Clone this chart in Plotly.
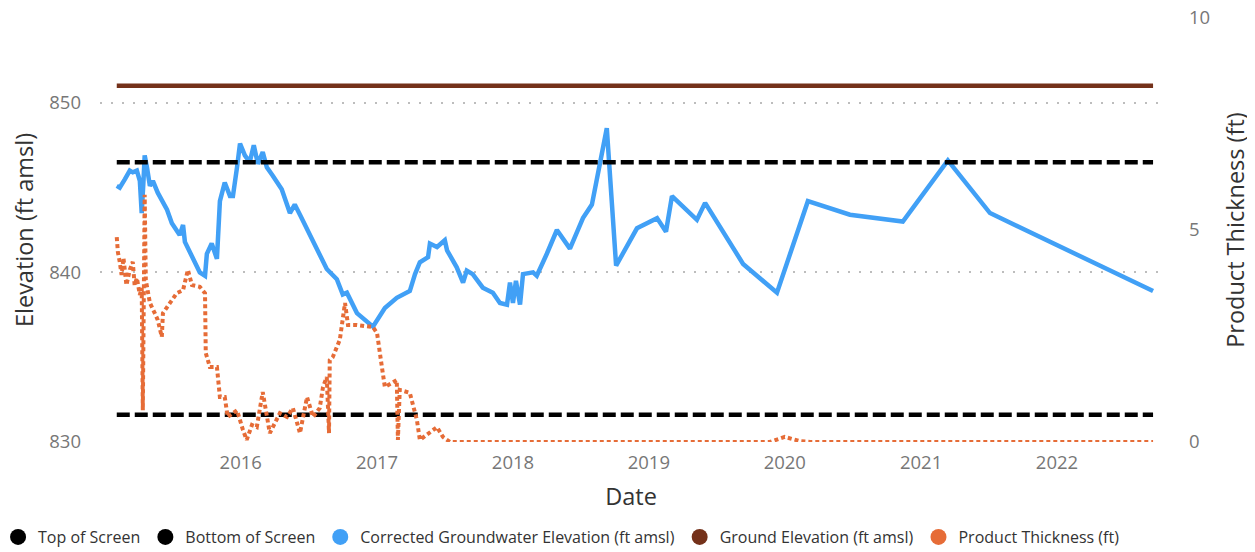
import plotly.graph_objects as go

# ---------------- data ----------------
gw_dates = [
    "2015-02-02", "2015-02-10", "2015-02-24", "2015-03-09", "2015-03-17", "2015-03-28",
    "2015-04-05", "2015-04-10", "2015-04-15", "2015-04-18", "2015-04-24", "2015-05-02",
    "2015-05-10", "2015-05-23", "2015-06-17", "2015-06-30", "2015-07-21", "2015-07-30",
    "2015-08-04", "2015-08-23", "2015-09-13", "2015-09-27", "2015-10-02", "2015-10-15",
    "2015-10-29", "2015-11-06", "2015-11-19", "2015-12-03", "2015-12-11", "2015-12-22",
    "2015-12-30", "2016-01-12", "2016-01-25", "2016-02-05", "2016-02-16", "2016-02-29",
    "2016-03-11", "2016-03-27", "2016-04-20", "2016-05-12", "2016-05-25", "2016-06-08",
    "2016-07-13", "2016-08-19", "2016-09-15", "2016-10-01", "2016-10-12", "2016-11-08",
    "2016-12-21", "2017-01-09", "2017-01-22", "2017-02-23", "2017-03-30", "2017-04-13",
    "2017-04-26", "2017-05-18", "2017-05-23", "2017-06-11", "2017-07-02", "2017-07-08",
    "2017-08-03", "2017-08-20", "2017-08-30", "2017-09-15", "2017-10-12", "2017-11-08",
    "2017-11-27", "2017-12-16", "2017-12-24", "2018-01-01", "2018-01-09", "2018-01-20",
    "2018-01-28", "2018-02-24", "2018-03-06", "2018-04-02", "2018-04-29", "2018-06-03",
    "2018-07-08", "2018-08-01", "2018-09-10", "2018-10-05", "2018-10-29", "2018-11-30",
    "2019-01-23", "2019-02-16", "2019-03-04", "2019-05-10", "2019-06-01", "2019-09-11",
    "2019-12-11", "2020-03-03", "2020-06-24", "2020-11-13", "2021-03-14", "2021-07-05",
    "2022-09-16",
]
gw_elev = [
    845.1, 845.0, 845.5, 846.0, 845.9, 846.0,
    845.4, 843.5, 845.5, 846.9, 846.2, 845.1,
    845.4, 844.7, 843.7, 842.9, 842.2, 842.8,
    841.8, 841.0, 840.0, 839.8, 841.1, 841.7,
    840.8, 844.2, 845.3, 844.5, 844.5, 846.2,
    847.6, 846.9, 846.5, 847.5, 846.4, 847.1,
    846.2, 845.7, 844.9, 843.5, 844.0, 843.4,
    841.8, 840.2, 839.6, 838.7, 838.8, 837.6,
    836.8, 837.4, 837.9, 838.5, 838.9, 839.9,
    840.6, 840.9, 841.7, 841.5, 841.9, 841.3,
    840.3, 839.4, 840.1, 839.9, 839.1, 838.8,
    838.2, 838.1, 839.4, 838.2, 839.5, 838.1,
    839.9, 840.0, 839.8, 841.1, 842.5, 841.4,
    843.2, 844.0, 848.5, 840.4, 841.4, 842.6,
    843.2, 842.4, 844.5, 843.1, 844.1, 840.5,
    838.8, 844.2, 843.4, 843.0, 846.6, 843.5,
    838.9,
]

pt_dates = [
    "2015-02-02", "2015-02-05", "2015-02-10", "2015-02-15", "2015-02-20", "2015-02-28",
    "2015-03-09", "2015-03-17", "2015-03-22", "2015-03-28", "2015-04-05", "2015-04-10",
    "2015-04-13", "2015-04-16", "2015-04-18", "2015-04-21", "2015-04-26", "2015-05-02",
    "2015-05-15", "2015-05-23", "2015-06-03", "2015-06-06", "2015-06-25", "2015-07-13",
    "2015-07-30", "2015-08-12", "2015-08-23", "2015-09-13", "2015-09-27", "2015-09-29",
    "2015-10-10", "2015-10-29", "2015-11-06", "2015-11-19", "2015-11-27", "2015-12-22",
    "2016-01-07", "2016-01-17", "2016-01-31", "2016-02-13", "2016-02-29", "2016-03-11",
    "2016-03-19", "2016-04-15", "2016-05-04", "2016-05-20", "2016-06-08", "2016-06-27",
    "2016-07-13", "2016-07-31", "2016-08-09", "2016-08-19", "2016-08-25", "2016-08-27",
    "2016-09-04", "2016-09-23", "2016-10-07", "2016-10-15", "2016-11-08", "2016-12-21",
    "2017-01-01", "2017-01-14", "2017-01-22", "2017-02-10", "2017-02-23", "2017-02-26",
    "2017-03-03", "2017-03-30", "2017-04-18", "2017-04-26", "2017-05-23", "2017-06-11",
    "2017-06-27", "2017-07-16", "2019-11-22", "2020-01-01", "2020-02-11", "2020-03-09",
    "2022-09-16",
]
pt_thick = [
    4.83, 4.48, 4.25, 3.94, 4.34, 3.70,
    4.06, 4.25, 3.70, 3.87, 3.47, 3.63,
    0.75, 3.35, 5.83, 3.82, 3.58, 3.28,
    3.04, 2.88, 2.48, 3.04, 3.28, 3.51,
    3.58, 4.06, 3.70, 3.66, 3.51, 2.10,
    1.77, 1.77, 1.06, 1.06, 0.59, 0.75,
    0.28, 0.05, 0.40, 0.35, 1.18, 0.59,
    0.21, 0.68, 0.59, 0.80, 0.21, 1.06,
    0.59, 0.80, 1.30, 1.53, 0.21, 1.93,
    2.00, 2.41, 3.28, 2.76, 2.76, 2.71,
    2.57, 1.77, 1.30, 1.39, 1.46, 0.05,
    1.23, 1.16, 0.52, 0.05, 0.21, 0.35,
    0.12, 0.00, 0.00, 0.12, 0.02, 0.00,
    0.00,
]

series_span = ["2015-02-02", "2022-09-16"]
top_of_screen = 846.5
bottom_of_screen = 831.6
ground_elevation = 851.0

tick_years = ["2016", "2017", "2018", "2019", "2020", "2021", "2022"]

# ---------------- styling ----------------
FONT = "Segoe UI, Open Sans, sans-serif"
C_BLUE = "#41A0F6"
C_ORANGE = "#E66C37"
C_BROWN = "#74311A"
C_BLACK = "#000000"
TITLE_C = "#333333"
TICK_C = "#777777"

fig = go.Figure()

fig.add_trace(go.Scatter(x=gw_dates, y=gw_elev, mode="lines",
                         line=dict(color=C_BLUE, width=4.5), showlegend=False, yaxis="y"))
fig.add_trace(go.Scatter(x=series_span, y=[top_of_screen] * 2, mode="lines",
                         line=dict(color=C_BLACK, width=4.5, dash="13px,5px"), showlegend=False))
fig.add_trace(go.Scatter(x=series_span, y=[bottom_of_screen] * 2, mode="lines",
                         line=dict(color=C_BLACK, width=4.5, dash="13px,5px"), showlegend=False))
fig.add_trace(go.Scatter(x=series_span, y=[ground_elevation] * 2, mode="lines",
                         line=dict(color=C_BROWN, width=4.5), showlegend=False))
fig.add_trace(go.Scatter(x=pt_dates, y=pt_thick, mode="lines", yaxis="y2",
                         line=dict(color=C_ORANGE, width=4, dash="4px,3px"), showlegend=False))

# legend entries (circle markers like the reference legend)
for name, col in [("Top of Screen", C_BLACK), ("Bottom of Screen", C_BLACK),
                  ("Corrected Groundwater Elevation (ft amsl)", C_BLUE),
                  ("Ground Elevation (ft amsl)", C_BROWN),
                  ("Product Thickness (ft)", C_ORANGE)]:
    fig.add_trace(go.Scatter(x=[None], y=[None], mode="markers", name=name,
                             marker=dict(color=col, size=17, symbol="circle")))

# the page body adds an 8px margin, so the figure is sized 8px smaller
fig.update_layout(
    width=1247, height=544,
    margin=dict(l=92, r=93, t=10, b=110, autoexpand=False),
    paper_bgcolor="white", plot_bgcolor="white",
    font=dict(family=FONT, color=TICK_C, size=16),
    xaxis=dict(
        type="date", range=["2014-12-19", "2022-10-10"],
        tickvals=[f"{y}-01-01" for y in tick_years], ticktext=tick_years,
        showgrid=False, zeroline=False, showline=False, automargin=True,
        tickfont=dict(size=18.5, color=TICK_C), ticklabelstandoff=7,
        title=dict(text="Date", font=dict(size=23.5, color=TITLE_C), standoff=16),
    ),
    yaxis=dict(
        range=[830, 855], tickvals=[830, 840, 850],
        showgrid=True, gridcolor="#BDBDBD", griddash="2px,9px", gridwidth=1.5,
        zeroline=False, showline=False, automargin=False,
        tickfont=dict(size=18.5, color=TICK_C), ticklabelstandoff=18,
        title=dict(text="Elevation (ft amsl)", font=dict(size=23.5, color=TITLE_C)),
    ),
    yaxis2=dict(
        range=[0, 10], tickvals=[0, 5, 10], overlaying="y", side="right",
        showgrid=False, zeroline=False, showline=False, automargin=True,
        ticklabeloverflow="allow",
        tickfont=dict(size=18.5, color=TICK_C), ticklabelstandoff=26,
        title=dict(text="Product Thickness (ft)", font=dict(size=23.5, color=TITLE_C), standoff=18),
    ),
    legend=dict(
        orientation="h", xref="paper", yref="paper",
        x=-0.096, xanchor="left", y=-0.224, yanchor="middle",
        font=dict(size=16, color=TITLE_C), itemwidth=30, tracegroupgap=0,
        bgcolor="rgba(0,0,0,0)",
    ),
    showlegend=True,
)

fig.write_html("out.html")
